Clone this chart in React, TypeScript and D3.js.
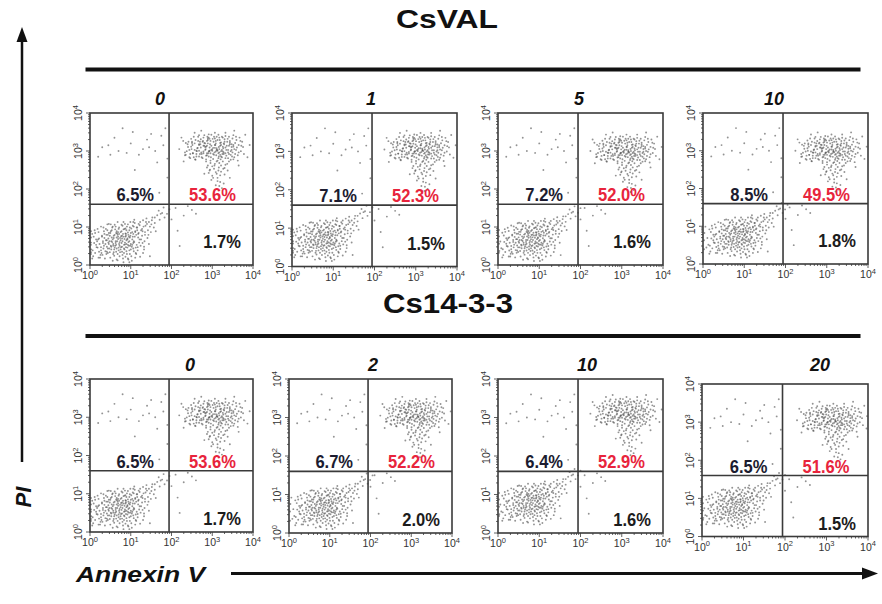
import React from "react";
import * as d3 from "d3";

// ---------- data ----------
const groupTitles = ["CsVAL", "Cs14-3-3"];
const doseLabels = ["0", "1", "5", "10", "0", "2", "10", "20"];
const ulPercent = ["6.5%", "7.1%", "7.2%", "8.5%", "6.5%", "6.7%", "6.4%", "6.5%"];
const urPercent = ["53.6%", "52.3%", "52.0%", "49.5%", "53.6%", "52.2%", "52.9%", "51.6%"];
const lrPercent = ["1.7%", "1.5%", "1.6%", "1.8%", "1.7%", "2.0%", "1.6%", "1.5%"];
const decadeExponents = [0, 1, 2, 3, 4];
const gateLogX = 1.94;
const gateLogY = 1.6;

// cluster centres (log10 units) per panel
const liveCx = [0.75, 0.75, 0.8, 0.85, 0.75, 0.85, 0.8, 0.8];
const liveCy = [0.65, 0.72, 0.68, 0.75, 0.65, 0.68, 0.8, 0.8];
const lateCx = [3.0, 3.05, 3.05, 3.05, 3.0, 3.05, 3.05, 3.1];
const lateCy = [3.05, 3.05, 3.0, 3.0, 3.05, 3.05, 3.1, 3.05];

// event offsets around the cluster centre (hundredths of a decade)
const livePoints = [
  [-5, 3], [12, -8], [-22, 10], [30, 18], [-40, -15], [8, 25], [-15, -30], [45, 20], [0, 0], [20, -12],
  [-33, 5], [15, 35], [-8, -18], [52, 40], [-50, -10], [25, 8], [-18, 22], [38, -5], [-28, -25], [5, -40],
  [60, 30], [-12, 12], [18, -22], [-45, 18], [33, 28], [-3, -8], [10, 15], [-25, -5], [42, 2], [-60, -20],
  [7, -28], [28, 45], [-37, -32], [50, 12], [-10, 30], [22, -35], [-55, 8], [35, -15], [-20, -12], [65, 50],
  [2, 20], [-30, 25], [14, 2], [-42, -38], [48, -20], [-6, 40], [27, -2], [-16, -45], [56, 22], [-48, -2],
  [11, -15], [-24, 16], [39, 33], [-35, -18], [3, 10], [70, 38], [-9, -25], [19, 28], [-52, -28], [31, -28],
  [-14, 5], [44, 10], [-27, 35], [9, -5], [-38, 10], [58, -8], [-2, -35], [24, 18], [-44, -25], [16, -42],
  [75, 55], [-19, -2], [36, 6], [-58, 14], [4, 32], [26, -18], [-31, -8], [47, 30], [-7, 15], [13, -30],
  [-46, 2], [62, 18], [-21, -38], [29, 38], [-11, -12], [41, -12], [-34, 20], [1, -15], [53, 48], [-56, -35],
  [17, 8], [-26, -28], [34, 22], [-4, 25], [68, 28], [-40, 30], [21, -8], [-13, -20], [46, -28], [-62, -5],
  [6, -48], [32, 12], [-29, 12], [55, 5], [-17, 28], [23, -45], [-49, -15], [40, 40], [-1, 5], [80, 45],
  [12, 22], [-36, -2], [27, 30], [-23, -18], [49, -2], [-8, -42], [37, 16], [-53, 22], [15, -10], [-32, -40],
  [63, 35], [-5, 18], [20, 40], [-43, -8], [8, -20], [44, 25], [-20, 35], [30, -38], [-57, -22], [10, 8],
  [72, 20], [-15, -8], [26, 14], [-39, -28], [3, -25], [51, 32], [-28, 0], [18, -2], [-47, 25], [35, -22],
  [85, 60], [90, 50], [78, 65], [95, 58], [88, 72], [-70, -10], [-66, 20], [-72, -30], [100, 68], [60, -35],
  [-2, -4], [6, 8], [-10, -2], [14, 4], [-6, 12], [3, -14], [-18, 6], [9, -9], [-12, -16], [20, 10],
  [0, 18], [-24, -8], [16, -4], [-4, -22], [11, 14], [-16, 2], [26, -6], [-8, 6], [4, -2], [-20, 20],
  [18, 22], [-28, -14], [7, -18], [-14, 10], [23, -14], [-3, 28], [12, -24], [-30, 0], [29, 8], [-9, -10],
  [1, 9], [-19, -20], [15, 17], [-26, 12], [33, -10], [-6, -30], [8, 3], [-11, 24], [21, -20], [-36, -6],
  [5, 14], [-15, -12], [24, 2], [-2, -12], [13, 30], [-22, -26], [30, 20], [-7, -2], [17, -12], [-33, 14],
  [2, -6], [10, -36], [-25, 4], [19, 6], [-12, 34], [36, 14], [-40, -22], [6, 24], [-17, -4], [27, -24],
  [-5, 8], [14, -16], [-29, -30], [22, 26], [-1, -26], [39, 2], [-44, 4], [9, 36], [-21, 16], [31, -16],
  [-10, -6], [16, 12], [-34, -12], [4, -32], [25, 32], [-27, 22], [12, 0], [-47, -16], [42, 22], [-13, -34],
  [3, 4], [-8, 20], [19, -30], [-38, 8], [28, -4], [-4, -16], [10, 26], [-23, -2], [34, 28], [-50, 2],
  [7, -10], [-16, 30], [21, 16], [-31, -24], [45, -6], [-3, 14], [15, -40], [-41, -32], [37, 36], [-19, -14],
  [0, -20], [24, -10], [-9, 16], [-54, -6], [50, 18], [11, 10], [-26, -18], [32, -30], [-14, -26], [6, 40],
  [58, 40], [64, 44], [54, 36], [70, 50], [-64, -26], [-68, 6], [82, 58], [46, 44], [-58, -40], [40, -36],
  [-35, 28], [26, 40], [-45, -38], [57, 12], [-6, -44], [18, -48], [-52, 16], [48, -14], [2, 34], [-24, 36],
];

const latePoints = [
  [0, 0], [15, 5], [-20, 8], [30, -10], [-35, -5], [8, 20], [-12, -15], [40, 12], [22, -20], [-28, 18],
  [5, -8], [-45, 10], [50, 0], [-8, 28], [18, 15], [-22, -22], [35, 25], [-50, -12], [12, -28], [-5, 12],
  [45, -18], [-38, 22], [25, 2], [-15, 0], [60, 10], [-3, -20], [28, 18], [-30, -18], [10, 30], [-55, 5],
  [42, -5], [-18, 15], [2, -12], [55, 22], [-25, -8], [20, -5], [-42, -20], [33, 8], [-10, 22], [48, -25],
  [-60, 15], [7, 10], [38, -12], [-33, 3], [15, -18], [-2, 35], [65, -5], [-48, 25], [24, 28], [-14, -25],
  [52, 15], [-27, 12], [11, -2], [-40, -2], [30, 32], [-7, -5], [44, 5], [-52, -20], [17, 22], [-20, 28],
  [58, -15], [-36, -12], [3, 18], [26, -8], [-58, -5], [40, 20], [-12, 8], [20, 10], [-46, 15], [36, -22],
  [-4, -28], [62, 28], [-24, -12], [9, -15], [-32, 30], [48, 10], [-16, 5], [32, -2], [-62, -15], [14, 35],
  [70, 5], [-6, 25], [23, -12], [-44, -10], [6, 3], [46, -8], [-30, 10], [16, -8], [-54, 18], [38, 30],
  [-9, -10], [54, -2], [-21, 20], [27, 12], [-39, -25], [1, 25], [68, 18], [-47, 0], [19, -25], [-11, 30],
  [5, -40], [15, -45], [-5, -50], [20, -55], [10, -60], [0, -65], [25, -48], [12, -70], [-8, -58], [18, -80],
  [8, -88], [28, -62], [-2, -75], [22, -95], [-12, -45], [30, -38], [35, -52], [15, -100], [40, -70], [-18, -60],
  [75, 35], [-70, 28], [80, -20], [-65, -30], [50, 45], [-40, 40], [85, 10], [60, -40], [-75, 0], [-25, 45],
  [2, 3], [-6, -4], [10, -2], [-14, 6], [6, 10], [18, 8], [-10, 14], [24, -6], [-20, -10], [4, -14],
  [14, -10], [-26, 4], [30, 4], [-4, 20], [20, 16], [-16, -2], [8, -6], [-30, 12], [36, -8], [-8, -18],
  [26, 14], [-22, 18], [12, 22], [-36, -4], [16, 0], [-2, 8], [40, 16], [-12, -10], [32, -16], [-28, -12],
  [0, -4], [22, -2], [-18, 8], [44, -2], [-40, 14], [6, 26], [28, 24], [-24, -20], [14, -22], [-6, 4],
  [48, 6], [-32, 20], [18, -14], [-10, 26], [38, 8], [-44, -10], [10, 2], [-16, 14], [34, 18], [-4, -10],
  [52, -12], [-48, 6], [24, 6], [-14, -16], [42, -14], [-36, -18], [4, 30], [30, -22], [-26, 24], [20, -18],
  [-2, -2], [46, 26], [-52, -2], [16, 28], [-20, -6], [56, 4], [-38, -26], [8, 14], [26, -12], [-30, -4],
  [12, -4], [-8, -6], [36, -2], [-46, 18], [50, -20], [2, -24], [22, 30], [-34, 2], [44, 12], [-12, 20],
  [10, -30], [6, -36], [16, -34], [0, -42], [20, -40], [-4, -34], [14, -52], [4, -48], [24, -30], [-10, -40],
  [8, -56], [18, -64], [-6, -52], [12, -78], [28, -46], [2, -70], [26, -84], [-14, -30], [34, -36], [16, -90],
  [60, -8], [-56, 12], [64, 20], [-60, -14], [54, 30], [-42, 30], [72, -12], [58, -28], [-66, 20], [-50, -22],
  [-18, 34], [38, -30], [6, 40], [-30, 34], [48, 34], [66, 8], [-62, -8], [30, 40], [-8, 36], [42, -26],
];

// sparse necrotic (upper-left) and early apoptotic (lower-right) events, log10 units
const necroticPoints = [
  [0.3, 3.1], [0.5, 2.9], [0.8, 3.6], [1.0, 3.2], [1.2, 2.9], [1.4, 3.3], [1.6, 3.0], [1.8, 3.15],
  [1.9, 2.8], [0.6, 3.35], [1.1, 2.5], [1.5, 3.45], [0.2, 2.85], [1.75, 3.4], [1.3, 3.05], [0.9, 2.95],
  [1.85, 3.6], [0.45, 3.15], [1.65, 2.7], [1.05, 3.5], [1.9, 2.3], [1.7, 1.9], [0.7, 3.0], [1.45, 3.1],
];
const earlyPoints = [
  [2.3, 1.3], [2.2, 0.5], [2.1, 1.5], [2.5, 1.45], [2.0, 1.2], [2.4, 1.55], [2.15, 0.9], [2.6, 1.35],
];

// ---------- layout ----------
const frames = [
  { l: 90, t: 113, r: 253, b: 265, tx: 160, ty: 105, lr: 17 },
  { l: 292, t: 113, r: 457, b: 266.5, tx: 371, ty: 105, lr: 17 },
  { l: 498, t: 113, r: 663, b: 265, tx: 579, ty: 105, lr: 17 },
  { l: 703, t: 113, r: 868, b: 264, tx: 774, ty: 105, lr: 17 },
  { l: 90, t: 379, r: 253, b: 532, tx: 190, ty: 371, lr: 7 },
  { l: 289, t: 379, r: 452, b: 533, tx: 373, ty: 371, lr: 7 },
  { l: 498, t: 379, r: 663, b: 533, tx: 587, ty: 371, lr: 7 },
  { l: 702, t: 384, r: 868, b: 536.5, tx: 820, ty: 371, lr: 7 },
];
const liveSpread = 1.2;
const lateSpread = 1.08;

const FONT = "'Liberation Sans', Arial, Helvetica, sans-serif";
const RED = "#e8243c";

function Panel({ i }: { i: number }) {
  const f = frames[i];
  const x = d3.scaleLog().domain([1, 1e4]).range([f.l, f.r]);
  const y = d3.scaleLog().domain([1, 1e4]).range([f.b, f.t]);
  const clamp = (v: number) => Math.max(0.025, Math.min(3.975, v));
  const px = (v: number) => x(10 ** clamp(v));
  const py = (v: number) => y(10 ** clamp(v));
  const gx = x(10 ** gateLogX);
  const gy = y(10 ** gateLogY);
  const allTicks = x.ticks();
  const events: [number, number][] = [
    ...livePoints.map(([dx, dy]) => [liveCx[i] + (dx * liveSpread) / 100, liveCy[i] + (dy * liveSpread) / 100] as [number, number]),
    ...latePoints.map(([dx, dy]) => [lateCx[i] + (dx * lateSpread) / 100, lateCy[i] + (dy * lateSpread) / 100] as [number, number]),
    ...(necroticPoints as [number, number][]),
    ...(earlyPoints as [number, number][]),
  ];
  const stroke = "#3a3a3a";
  return (
    <g>
      <text x={f.tx} y={f.ty} textAnchor="middle" fontFamily={FONT} fontWeight="bold" fontStyle="italic" fontSize={18} fill="#111">
        {doseLabels[i]}
      </text>
      {events.map(([a, b], k) => (
        <circle key={k} cx={px(a)} cy={py(b)} r={0.95} fill="#505050" opacity={0.62} />
      ))}
      <rect x={f.l} y={f.t} width={f.r - f.l} height={f.b - f.t} fill="none" stroke={stroke} strokeWidth={1.6} />
      <line x1={gx} x2={gx} y1={f.t} y2={f.b} stroke={stroke} strokeWidth={1.6} />
      <line x1={f.l} x2={f.r} y1={gy} y2={gy} stroke={stroke} strokeWidth={1.6} />
      {allTicks.map((t, k) => {
        const major = decadeExponents.some((e) => Math.abs(10 ** e - t) < 1e-6);
        const len = major ? 4 : 2;
        return (
          <g key={k}>
            <line x1={x(t)} x2={x(t)} y1={f.b} y2={f.b + len} stroke={stroke} strokeWidth={0.8} />
            <line x1={f.l} x2={f.l - len} y1={y(t)} y2={y(t)} stroke={stroke} strokeWidth={0.8} />
          </g>
        );
      })}
      {decadeExponents.map((e) => (
        <text key={"x" + e} x={x(10 ** e)} y={f.b + 14} textAnchor="middle" fontFamily={FONT} fontSize={10.5} fill="#333">
          10<tspan dy={-4.5} fontSize={7.5}>{e}</tspan>
        </text>
      ))}
      {decadeExponents.map((e) => (
        <text
          key={"y" + e}
          transform={`translate(${f.l - 8},${y(10 ** e)}) rotate(-90)`}
          textAnchor="middle"
          fontFamily={FONT}
          fontSize={10.5}
          fill="#333"
        >
          10<tspan dy={-4.5} fontSize={7.5}>{e}</tspan>
        </text>
      ))}
      <text transform={`translate(${gx - 15},${gy - 3}) scale(0.87,1)`} textAnchor="end" fontFamily={FONT} fontWeight="bold" fontSize={19} fill="#1c1c30">
        {ulPercent[i]}
      </text>
      <text transform={`translate(${gx + 20},${gy - 3}) scale(0.87,1)`} textAnchor="start" fontFamily={FONT} fontWeight="bold" fontSize={19} fill={RED}>
        {urPercent[i]}
      </text>
      <text transform={`translate(${f.r - 12},${f.b - f.lr}) scale(0.87,1)`} textAnchor="end" fontFamily={FONT} fontWeight="bold" fontSize={19} fill="#1c1c1c">
        {lrPercent[i]}
      </text>
    </g>
  );
}

export default function App() {
  return (
    <svg width={882} height={604} style={{ position: "absolute", left: 0, top: 0, background: "#fff" }}>
      <rect width={882} height={604} fill="#fff" />
      <text x={396} y={28} fontFamily={FONT} fontWeight="bold" fontSize={25} textLength={102} lengthAdjust="spacingAndGlyphs" fill="#111">
        {groupTitles[0]}
      </text>
      <line x1={85.5} x2={860.5} y1={69.5} y2={69.5} stroke="#111" strokeWidth={4} />
      <text x={383} y={313} fontFamily={FONT} fontWeight="bold" fontSize={27} textLength={130} lengthAdjust="spacingAndGlyphs" fill="#111">
        {groupTitles[1]}
      </text>
      <line x1={85.5} x2={860.5} y1={336} y2={336} stroke="#111" strokeWidth={4} />
      {frames.map((_, i) => (
        <Panel key={i} i={i} />
      ))}
      {/* PI axis arrow */}
      <line x1={22} x2={22} y1={462} y2={40} stroke="#111" strokeWidth={2.5} />
      <polygon points="22,27 16.5,42 27.5,42" fill="#111" />
      <text transform="translate(31,497) rotate(-90)" textAnchor="middle" fontFamily={FONT} fontWeight="bold" fontStyle="italic" fontSize={22} fill="#111">
        PI
      </text>
      {/* Annexin V axis arrow */}
      <text x={76} y={582} fontFamily={FONT} fontWeight="bold" fontStyle="italic" fontSize={22} textLength={129} lengthAdjust="spacingAndGlyphs" fill="#111">
        Annexin V
      </text>
      <line x1={231} x2={866} y1={573.5} y2={573.5} stroke="#111" strokeWidth={3} />
      <polygon points="878,573.5 862,567.5 862,579.5" fill="#111" />
    </svg>
  );
}
